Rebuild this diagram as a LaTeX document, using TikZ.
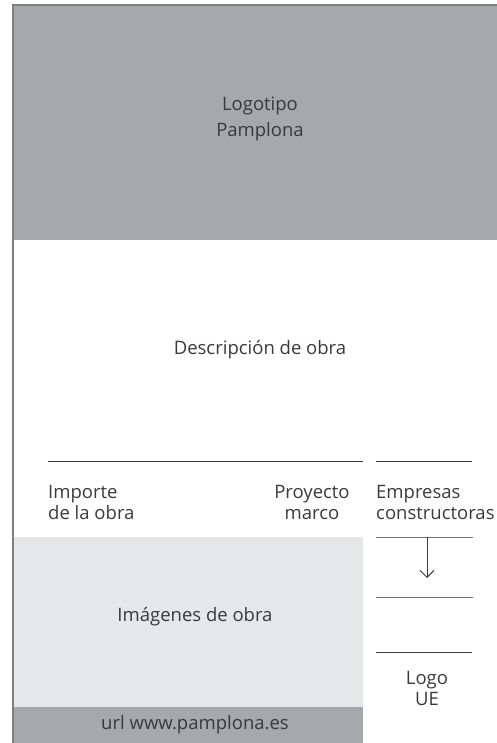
\documentclass[tikz,border=0pt]{standalone}
\usepackage{fontspec}
\setmainfont{Open Sans}
\usetikzlibrary{arrows.meta}

\definecolor{panelgray}{HTML}{A7A8AB}
\definecolor{lightpanel}{HTML}{E6E7E8}
\definecolor{framegray}{HTML}{7F7F7F}
\definecolor{textgray}{HTML}{3A3A3A}

\tikzset{
    label text/.style = {text = textgray, inner sep = 0pt,
        font = \fontsize{18.5}{21}\selectfont},
    rule/.style = {draw = textgray, line width = 0.9pt},
    thin rule/.style = {draw = textgray!70, line width = 0.5pt}
}

\begin{document}
\begin{tikzpicture}[x = 1pt, y = -1pt]

    \useasboundingbox (0,0) rectangle (497,743);

    % panels
    \fill[panelgray] (14,6) rectangle (497,240);
    \fill[lightpanel] (14,537) rectangle (363,707);
    \fill[panelgray] (14,707) rectangle (363,743);
    \draw[framegray, line width = 2pt] (13,743) -- (13,5) -- (497,5);

    % separators
    \draw[rule] (48,461) -- (363,461);
    \draw[rule] (376,461) -- (472,461);
    \draw[thin rule] (376,537) -- (473,537);
    \draw[thin rule] (376,597) -- (473,597);
    \draw[rule] (376,652) -- (472,652);

    % texts
    \node[label text, align = center,
        font = \fontsize{18.5}{26}\selectfont] (logo) at (260,119) {Logotipo\\Pamplona};
    \node[label text] (desc) at (260,350) {Descripción de obra};

    \node[label text, align = left, anchor = west] (importe) at (48,502)
        {Importe\\de la obra};
    \node[label text, align = center] (proyecto) at (312,502)
        {Proyecto\\marco};
    \node[label text, align = left, anchor = west] (empresas) at (376,502)
        {Empresas\\constructoras};

    \node[label text] (imagenes) at (195,617) {Imágenes de obra};
    \node[label text] (url) at (195,725) {url www.pamplona.es};
    \node[label text, align = center] (logoue) at (427,688) {Logo\\UE};

    % arrow
    \coordinate (arrtop) at (427,537);
    \coordinate (arrend) at (427,578);
    \draw[textgray, line width = 0.9pt, -{Straight Barb[length = 7pt, width = 14pt]}]
        (arrtop) -- (arrend);

\end{tikzpicture}
\end{document}
